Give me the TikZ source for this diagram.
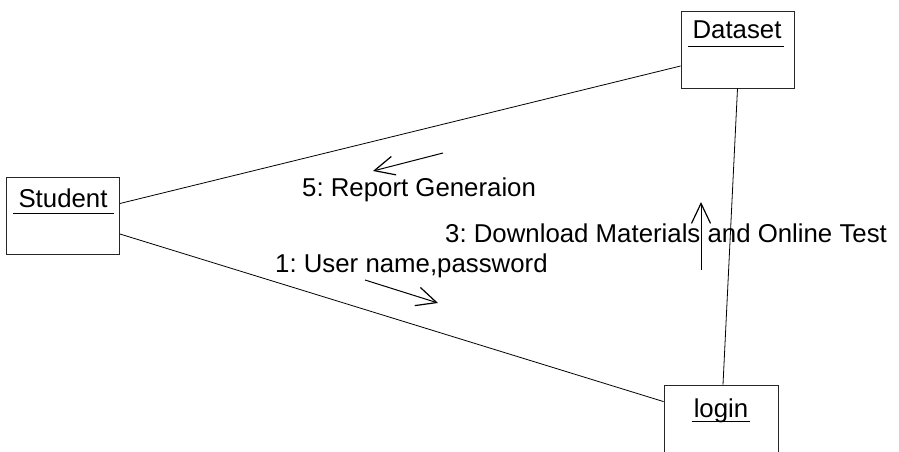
\documentclass[tikz,border=0pt]{standalone}
\usepackage{fontspec}
\setmainfont{Liberation Sans}
\usetikzlibrary{arrows.meta}
\frenchspacing
\begin{document}
\begin{tikzpicture}[x=1bp,y=-1bp,
 objbox/.style={draw=black!85,line width=0.8bp,minimum width=113bp,minimum height=77bp,inner sep=0},
 objname/.style={font=\fontsize{25.8bp}{30bp}\selectfont,inner sep=0,anchor=base},
 uline/.style={draw=black,line width=1bp},
 link/.style={draw=black,line width=0.8bp},
 msg/.style={font=\fontsize{25.8bp}{30bp}\selectfont\frenchspacing,inner sep=0,anchor=base west},
 msgarrow/.style={draw=black,line width=1bp,-{Straight Barb[length=20bp,width=19bp,line width=1.2bp]}}
]
\clip (0,0) rectangle (899,452);
\fill[white] (0,0) rectangle (899,452);
% object boxes
\node[objbox] (dataset) at (737.5,49.5) {};
\node[objbox] (student) at (63,215.5) {};
\node[objbox,minimum width=114bp,minimum height=90bp] (login) at (721,430) {};
% names
\node[objname] (dsname) at (737,39) {Dataset};
\node[objname] (stname) at (63,208) {Student};
\node[objname] (lgname) at (721,417) {login};
\draw[uline] ([xshift=-4bp,yshift=-8bp]dsname.base west) -- ([xshift=2bp,yshift=-8bp]dsname.base east);
\draw[uline] ([xshift=-5bp,yshift=-6bp]stname.base west) -- ([xshift=6bp,yshift=-6bp]stname.base east);
\draw[uline] ([xshift=-2bp,yshift=-4bp]lgname.base west) -- ([xshift=2bp,yshift=-4bp]lgname.base east);
% links
\draw[link] ([yshift=12bp]student.east) -- ([yshift=-16.5bp]dataset.west);
\draw[link] ([yshift=-18.5bp]student.east) -- ([yshift=-17bp]login.north west);
\draw[link] (dataset.south) -- ([xshift=2bp]login.north);
% messages
\node[msg] (m5) at (302,197) {5: Report Generaion};
\node[msg] (m1) at (275,273) {1: User name,password};
\node[msg] (m3) at (445,243) {3: Download Materials and Online Test};
\coordinate (a5s) at (443,153);
\coordinate (a5e) at (373,171);
\coordinate (a1s) at (365,280);
\coordinate (a1e) at (438,303);
\coordinate (a3s) at (701,270);
\coordinate (a3e) at (701,202);
\draw[msgarrow] (a5s) -- (a5e);
\draw[msgarrow] (a1s) -- (a1e);
\draw[msgarrow] (a3s) -- (a3e);
\end{tikzpicture}
\end{document}
